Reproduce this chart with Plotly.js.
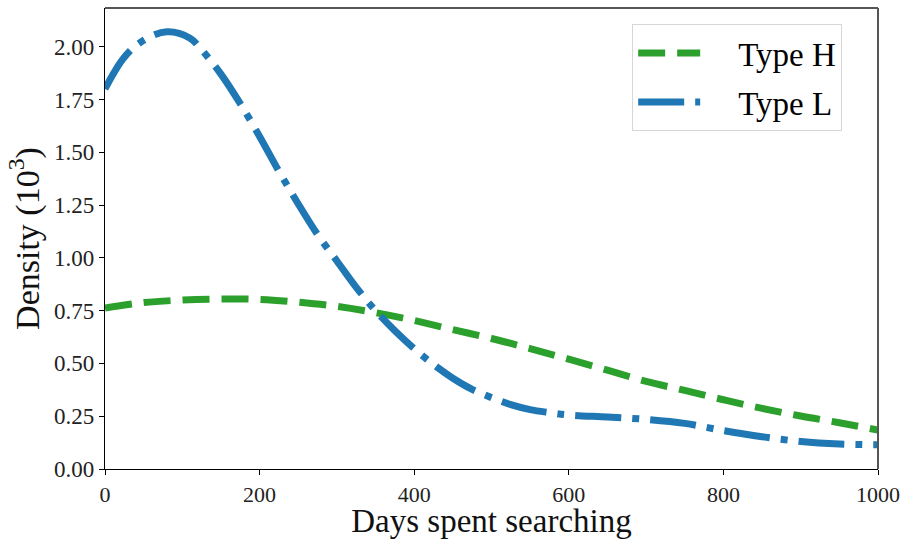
<!DOCTYPE html>
<html>
<head>
<meta charset="utf-8">
<script src="https://cdn.plot.ly/plotly-3.0.1.min.js"></script>
<style>html,body{margin:0;padding:0;background:#fff;}#chart{width:903px;height:539px;}</style>
</head>
<body>
<div id="chart"></div>
<script>
const daysL = [0, 25, 50, 80, 110, 125, 150, 175, 200, 225, 250, 275, 300, 325, 350, 375, 400, 425, 450, 475, 500, 525, 550, 575, 600, 650, 700, 750, 800, 850, 900, 950, 1000];
const densityL = [1.80, 1.95, 2.03, 2.07, 2.04, 1.985, 1.87, 1.73, 1.575, 1.41, 1.255, 1.11, 0.985, 0.86, 0.75, 0.655, 0.57, 0.495, 0.43, 0.377, 0.338, 0.305, 0.281, 0.267, 0.256, 0.246, 0.235, 0.216, 0.182, 0.153, 0.130, 0.118, 0.115];
const daysH = [0, 50, 100, 150, 200, 250, 300, 350, 400, 450, 500, 550, 600, 650, 700, 750, 800, 850, 900, 950, 1000];
const densityH = [0.762, 0.788, 0.80, 0.805, 0.803, 0.79, 0.77, 0.74, 0.703, 0.66, 0.618, 0.57, 0.52, 0.468, 0.415, 0.372, 0.328, 0.287, 0.251, 0.219, 0.184];
const seriesNames = ["Type H", "Type L"];
const xTicks = [0, 200, 400, 600, 800, 1000];
const yTicks = [0, 0.25, 0.5, 0.75, 1.0, 1.25, 1.5, 1.75, 2.0];
const yTickText = ["0.00", "0.25", "0.50", "0.75", "1.00", "1.25", "1.50", "1.75", "2.00"];

const FONT = "Liberation Serif, DejaVu Serif, serif";
const PAD = "\u00a0\u00a0\u00a0\u00a0";

const traces = [
  {x: daysH, y: densityH, name: PAD + seriesNames[0], legendgroup: "h", mode: "lines", line: {color: "#2ca02c", width: 7, dash: "27px,12px", shape: "spline", smoothing: 1}},
  {x: daysL, y: densityL, name: PAD + seriesNames[1], legendgroup: "l", mode: "lines", line: {color: "#1f77b4", width: 7, dash: "46px,11px,7px,11px", shape: "spline", smoothing: 1}}
];

const layout = {
  width: 903, height: 539,
  margin: {l: 105, r: 25, t: 8, b: 70},
  paper_bgcolor: "#fff", plot_bgcolor: "#fff",
  showlegend: true,
  font: {family: FONT, color: "#000"},
  xaxis: {
    range: [0, 1000], tickvals: xTicks, ticks: "outside", ticklen: 5, tickcolor: "#000", tickwidth: 1,
    showline: true, linecolor: "#000", linewidth: 1.2, showgrid: false, zeroline: false,
    tickfont: {family: FONT, size: 22, color: "#222"},
    title: {text: "Days spent searching", font: {family: FONT, size: 33, color: "#111"}, standoff: 8}
  },
  yaxis: {
    range: [0, 2.183], tickvals: yTicks, ticktext: yTickText, ticks: "outside", ticklen: 5, tickcolor: "#000", tickwidth: 1,
    showline: true, linecolor: "#000", linewidth: 1.2, showgrid: false, zeroline: false,
    tickfont: {family: FONT, size: 23, color: "#222"},
    title: {text: "Density (10<sup>3</sup>)", font: {family: FONT, size: 34, color: "#111"}, standoff: 4}
  },
  legend: {
    x: 0.682, y: 0.965, xanchor: "left", yanchor: "top",
    bgcolor: "rgba(255,255,255,0.9)", bordercolor: "#d6d6d6", borderwidth: 1,
    font: {family: FONT, size: 33, color: "#000"},
    itemwidth: 62, traceorder: "grouped", tracegroupgap: 3
  },
  shapes: [
    {type: "line", xref: "paper", yref: "paper", x0: 0, x1: 1, y0: 1, y1: 1, line: {color: "#555", width: 2}},
    {type: "line", xref: "paper", yref: "paper", x0: 1, x1: 1, y0: 0, y1: 1, line: {color: "#555", width: 2}}
  ]
};

Plotly.newPlot("chart", traces, layout, {displayModeBar: false, staticPlot: true});
</script>
</body>
</html>
